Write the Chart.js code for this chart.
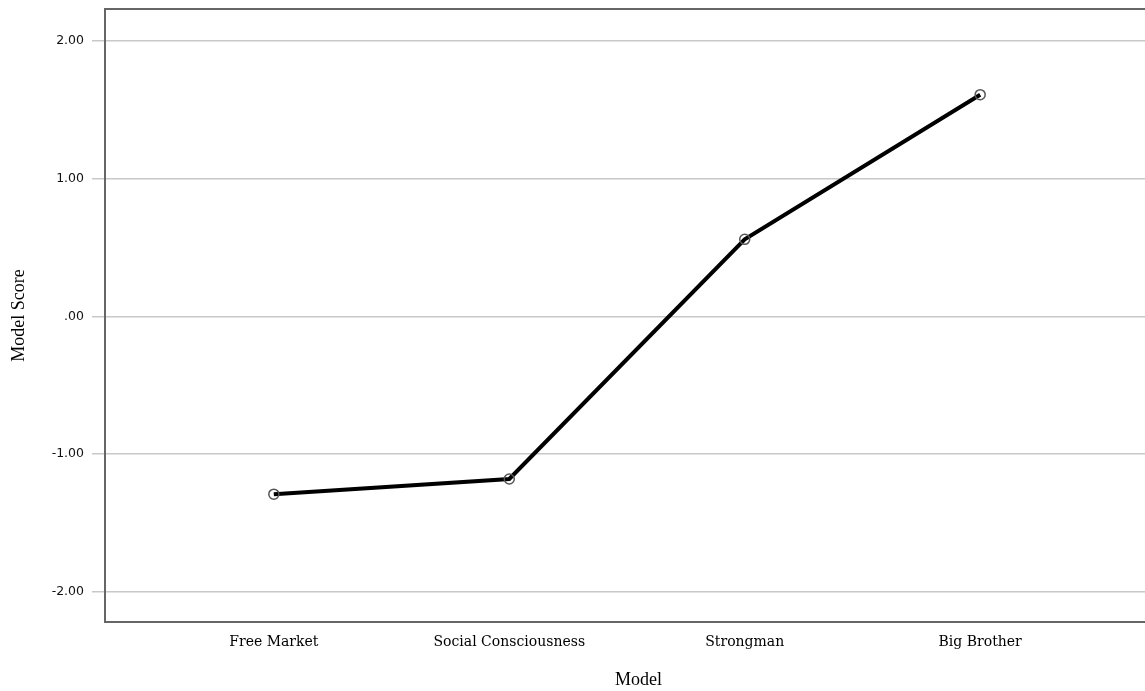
<!DOCTYPE html>
<html>
<head>
<meta charset="utf-8">
<script src="https://cdn.jsdelivr.net/npm/chart.js@4/dist/chart.umd.min.js"></script>
<style>
  html, body { margin: 0; padding: 0; background: #fff; }
  #wrap { width: 1145px; height: 691px; position: relative; }
</style>
</head>
<body>
<div id="wrap"><canvas id="lineChart"></canvas></div>
<script>
// values
const categories = ["Free Market", "Social Consciousness", "Strongman", "Big Brother"];
const scores = [-1.29, -1.18, 0.56, 1.61];
const yTicks = [-2, -1, 0, 1, 2];

function fmtTick(v) {
    if (v === 0) return ".00";
    return v.toFixed(2);
}

// left, top and bottom lines of the plot frame
const framePlugin = {
    id: "frame",
    afterDraw(chart) {
        const a = chart.chartArea;
        const ctx = chart.ctx;
        ctx.save();
        ctx.strokeStyle = "#666";
        ctx.lineWidth = 2;
        ctx.beginPath();
        ctx.moveTo(a.right + 2, a.top);
        ctx.lineTo(a.left, a.top);
        ctx.lineTo(a.left, a.bottom);
        ctx.lineTo(a.right + 2, a.bottom);
        ctx.stroke();
        ctx.restore();
    }
};

const ctx = document.getElementById("lineChart").getContext("2d");

new Chart(ctx, {
    type: "line",
    data: {
        datasets: [{
            data: scores.map((v, i) => ({ x: i, y: v })),
            borderColor: "#000",
            borderWidth: 4,
            pointRadius: 5,
            pointBorderWidth: 1.5,
            pointBorderColor: "#555",
            pointBackgroundColor: "rgba(255,255,255,0)",
            tension: 0
        }]
    },
    options: {
        responsive: true,
        maintainAspectRatio: false,
        animation: false,
        layout: { autoPadding: false, padding: { top: 9, right: 0, left: 0, bottom: 0 } },
        scales: {
            x: {
                type: "linear",
                min: -0.717,
                max: 3.70,
                afterFit: (s) => { s.height = 69; s.paddingLeft = 0; s.paddingRight = 0; },
                grid: { display: false },
                border: { display: false },
                ticks: {
                    stepSize: 1,
                    includeBounds: false,
                    autoSkip: false,
                    maxRotation: 0,
                    padding: 4,
                    color: "#000",
                    font: { family: "DejaVu Serif", size: 14 },
                    callback: (v) => categories[v] ?? ""
                },
                title: {
                    display: true,
                    text: "      Model",
                    color: "#000",
                    font: { family: "Liberation Serif", size: 18 },
                    padding: { top: 0, bottom: 0 }
                }
            },
            y: {
                min: -2.218,
                max: 2.232,
                afterFit: (s) => { s.width = 105; s.paddingTop = 0; s.paddingBottom = 0; },
                afterBuildTicks: (s) => { s.ticks = yTicks.map(v => ({ value: v })); },
                border: { display: false },
                grid: {
                    color: "#c8c8c8",
                    lineWidth: 1.5,
                    tickLength: 13,
                    drawTicks: true
                },
                ticks: {
                    padding: 8,
                    color: "#111",
                    font: { family: "DejaVu Sans", size: 12.5 },
                    callback: (v) => fmtTick(v)
                },
                title: {
                    display: true,
                    text: "Model Score",
                    color: "#000",
                    font: { family: "Liberation Serif", size: 18 },
                    padding: { top: 8, bottom: 0 }
                }
            }
        },
        plugins: {
            legend: { display: false },
            tooltip: { enabled: false }
        }
    },
    plugins: [framePlugin]
});
</script>
</body>
</html>
